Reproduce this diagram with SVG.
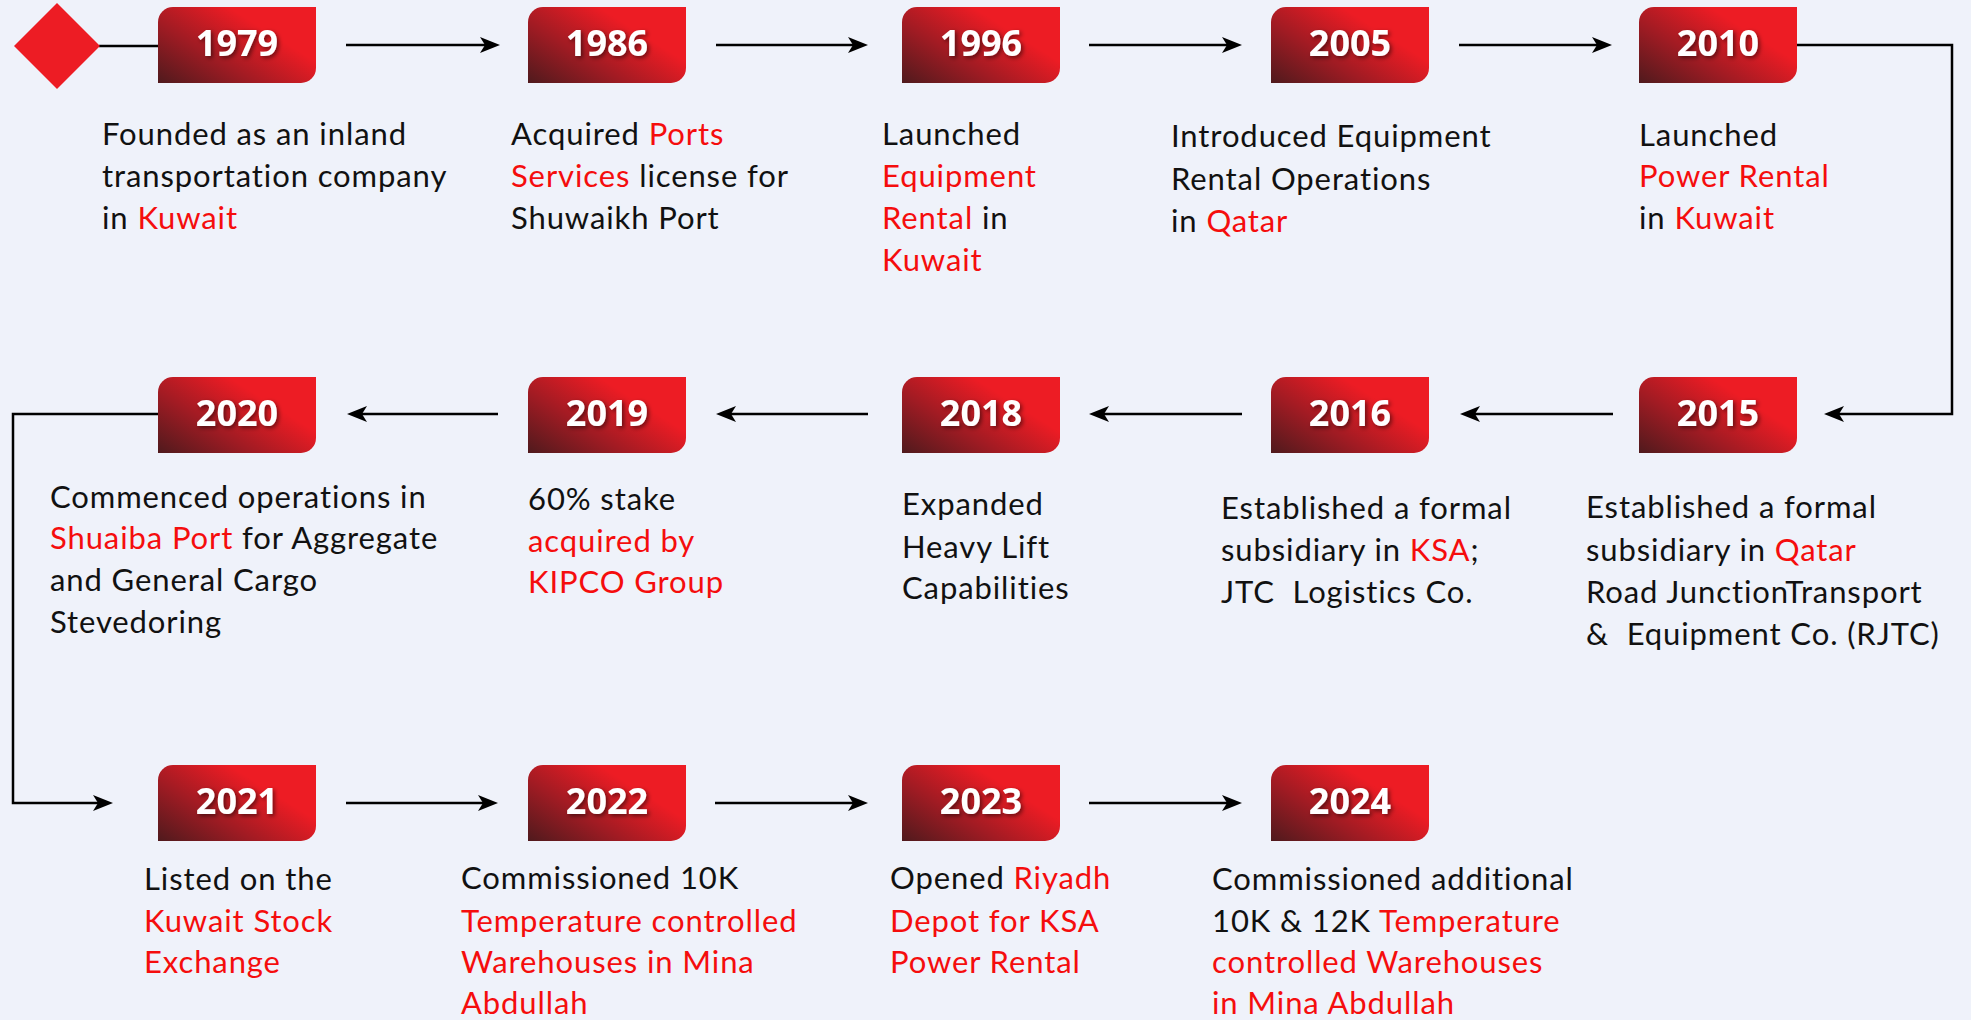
<svg xmlns="http://www.w3.org/2000/svg" width="1971" height="1020" viewBox="0 0 1971 1020">
<defs>
<linearGradient id="bg" x1="0" y1="1" x2="0.85" y2="0.35">
<stop offset="0" stop-color="#4f1a1d"/>
<stop offset="0.45" stop-color="#a01b23"/>
<stop offset="0.9" stop-color="#ed1c24"/>
</linearGradient>
<filter id="ts" x="-20%" y="-30%" width="140%" height="160%">
<feDropShadow dx="2" dy="2" stdDeviation="2" flood-color="#000" flood-opacity="0.5"/>
</filter>
<path id="badge" d="M15,0 H158 V61 A15,15 0 0 1 143,76 H0 V15 A15,15 0 0 1 15,0 Z" fill="url(#bg)"/>
<marker id="ah" markerUnits="userSpaceOnUse" markerWidth="20" markerHeight="16" refX="10" refY="8" orient="auto">
<path d="M0,0 L20,8 L0,16 L5,8 Z" fill="#000"/>
</marker>
</defs>
<style>
.yr{font-family:"Open Sans","DejaVu Sans",sans-serif;font-weight:700;font-size:36px;fill:#fff;text-anchor:middle;filter:url(#ts)}
.d{font-family:Lato,"Noto Sans",sans-serif;font-size:31px;letter-spacing:0.9px;fill:#111}
.r{fill:#f50d0d}
.c{fill:none;stroke:#000;stroke-width:2.5}
</style>
<rect width="1971" height="1020" fill="#eff2fa"/>
<g id="connectors">
<line class="c" x1="99" y1="46" x2="158" y2="46"/>
<line class="c" x1="346" y1="45" x2="490" y2="45" marker-end="url(#ah)"/>
<line class="c" x1="716" y1="45" x2="858" y2="45" marker-end="url(#ah)"/>
<line class="c" x1="1089" y1="45" x2="1232" y2="45" marker-end="url(#ah)"/>
<line class="c" x1="1459" y1="45" x2="1602" y2="45" marker-end="url(#ah)"/>
<path class="c" d="M1797,45 H1952 V414 H1834" marker-end="url(#ah)"/>
<line class="c" x1="1613" y1="414" x2="1470" y2="414" marker-end="url(#ah)"/>
<line class="c" x1="1242" y1="414" x2="1099" y2="414" marker-end="url(#ah)"/>
<line class="c" x1="868" y1="414" x2="726" y2="414" marker-end="url(#ah)"/>
<line class="c" x1="498" y1="414" x2="357" y2="414" marker-end="url(#ah)"/>
<path class="c" d="M158,414 H13 V803 H103" marker-end="url(#ah)"/>
<line class="c" x1="346" y1="803" x2="488" y2="803" marker-end="url(#ah)"/>
<line class="c" x1="715" y1="803" x2="858" y2="803" marker-end="url(#ah)"/>
<line class="c" x1="1089" y1="803" x2="1232" y2="803" marker-end="url(#ah)"/>
</g>
<g id="start">
<polygon points="14,46 57,3 100,46 57,89" fill="#ed1c24"/>
</g>
<g id="n1979">
<use href="#badge" x="158" y="7"/>
<text class="yr" x="237" y="56">1979</text>
<text class="d" x="102"><tspan x="102" y="145">Founded as an inland</tspan><tspan x="102" y="187">transportation company</tspan><tspan x="102" y="229">in <tspan class="r">Kuwait</tspan></tspan></text>
</g>
<g id="n1986">
<use href="#badge" x="528" y="7"/>
<text class="yr" x="607" y="56">1986</text>
<text class="d"><tspan x="511" y="145">Acquired <tspan class="r">Ports</tspan></tspan><tspan x="511" y="187"><tspan class="r">Services</tspan> license for</tspan><tspan x="511" y="229">Shuwaikh Port</tspan></text>
</g>
<g id="n1996">
<use href="#badge" x="902" y="7"/>
<text class="yr" x="981" y="56">1996</text>
<text class="d"><tspan x="882" y="145">Launched</tspan><tspan x="882" y="187" class="r">Equipment</tspan><tspan x="882" y="229"><tspan class="r">Rental</tspan> in</tspan><tspan x="882" y="271" class="r">Kuwait</tspan></text>
</g>
<g id="n2005">
<use href="#badge" x="1271" y="7"/>
<text class="yr" x="1350" y="56">2005</text>
<text class="d"><tspan x="1171" y="147">Introduced Equipment</tspan><tspan x="1171" y="190">Rental Operations</tspan><tspan x="1171" y="232">in <tspan class="r">Qatar</tspan></tspan></text>
</g>
<g id="n2010">
<use href="#badge" x="1639" y="7"/>
<text class="yr" x="1718" y="56">2010</text>
<text class="d"><tspan x="1639" y="146">Launched</tspan><tspan x="1639" y="187" class="r">Power Rental</tspan><tspan x="1639" y="229">in <tspan class="r">Kuwait</tspan></tspan></text>
</g>
<g id="n2015">
<use href="#badge" x="1639" y="377"/>
<text class="yr" x="1718" y="426">2015</text>
<text class="d"><tspan x="1586" y="518">Established a formal</tspan><tspan x="1586" y="561">subsidiary in <tspan class="r">Qatar</tspan></tspan><tspan x="1586" y="603">Road JunctionTransport</tspan><tspan x="1586" y="645" xml:space="preserve">&amp;  Equipment Co. (RJTC)</tspan></text>
</g>
<g id="n2016">
<use href="#badge" x="1271" y="377"/>
<text class="yr" x="1350" y="426">2016</text>
<text class="d"><tspan x="1221" y="519">Established a formal</tspan><tspan x="1221" y="561">subsidiary in <tspan class="r">KSA</tspan>;</tspan><tspan x="1221" y="603" xml:space="preserve">JTC  Logistics Co.</tspan></text>
</g>
<g id="n2018">
<use href="#badge" x="902" y="377"/>
<text class="yr" x="981" y="426">2018</text>
<text class="d"><tspan x="902" y="515">Expanded</tspan><tspan x="902" y="558">Heavy Lift</tspan><tspan x="902" y="599">Capabilities</tspan></text>
</g>
<g id="n2019">
<use href="#badge" x="528" y="377"/>
<text class="yr" x="607" y="426">2019</text>
<text class="d"><tspan x="528" y="510">60% stake</tspan><tspan x="528" y="552" class="r">acquired by</tspan><tspan x="528" y="593" class="r">KIPCO Group</tspan></text>
</g>
<g id="n2020">
<use href="#badge" x="158" y="377"/>
<text class="yr" x="237" y="426">2020</text>
<text class="d"><tspan x="50" y="508">Commenced operations in</tspan><tspan x="50" y="549"><tspan class="r">Shuaiba Port</tspan> for Aggregate</tspan><tspan x="50" y="591">and General Cargo</tspan><tspan x="50" y="633">Stevedoring</tspan></text>
</g>
<g id="n2021">
<use href="#badge" x="158" y="765"/>
<text class="yr" x="237" y="814">2021</text>
<text class="d"><tspan x="144" y="890">Listed on the</tspan><tspan x="144" y="932" class="r">Kuwait Stock</tspan><tspan x="144" y="973" class="r">Exchange</tspan></text>
</g>
<g id="n2022">
<use href="#badge" x="528" y="765"/>
<text class="yr" x="607" y="814">2022</text>
<text class="d"><tspan x="461" y="889">Commissioned 10K</tspan><tspan x="461" y="932" class="r">Temperature controlled</tspan><tspan x="461" y="973" class="r">Warehouses in Mina</tspan><tspan x="461" y="1014" class="r">Abdullah</tspan></text>
</g>
<g id="n2023">
<use href="#badge" x="902" y="765"/>
<text class="yr" x="981" y="814">2023</text>
<text class="d"><tspan x="890" y="889">Opened <tspan class="r">Riyadh</tspan></tspan><tspan x="890" y="932" class="r">Depot for KSA</tspan><tspan x="890" y="973" class="r">Power Rental</tspan></text>
</g>
<g id="n2024">
<use href="#badge" x="1271" y="765"/>
<text class="yr" x="1350" y="814">2024</text>
<text class="d"><tspan x="1212" y="890">Commissioned additional</tspan><tspan x="1212" y="932">10K &amp; 12K <tspan class="r">Temperature</tspan></tspan><tspan x="1212" y="973" class="r">controlled Warehouses</tspan><tspan x="1212" y="1014" class="r">in Mina Abdullah</tspan></text>
</g>
</svg>
